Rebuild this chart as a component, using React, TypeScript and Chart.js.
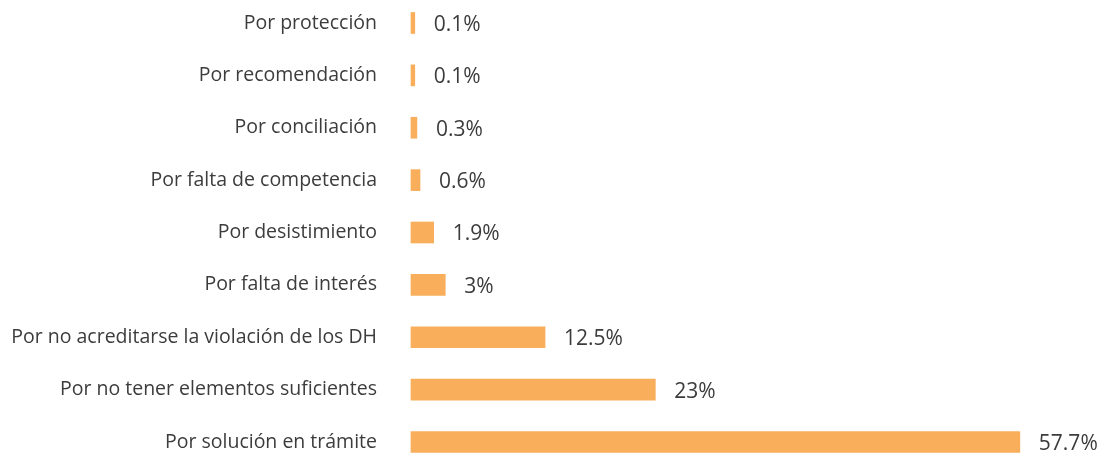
import React, { useEffect, useRef } from "react";
import { Chart, registerables } from "chart.js";

Chart.register(...registerables);

const categories = [
  "Por protección",
  "Por recomendación",
  "Por conciliación",
  "Por falta de competencia",
  "Por desistimiento",
  "Por falta de interés",
  "Por no acreditarse la violación de los DH",
  "Por no tener elementos suficientes",
  "Por solución en trámite",
];
const values = [0.1, 0.1, 0.3, 0.6, 1.9, 3, 12.5, 23, 57.7];
const valueLabels = ["0.1%", "0.1%", "0.3%", "0.6%", "1.9%", "3%", "12.5%", "23%", "57.7%"];

const FONT = "'Open Sans', sans-serif";
const TEXT = "#3c3c3c";
const BAR = "#F9AE5B";

const valueLabelPlugin = {
  id: "valueLabels",
  afterDatasetsDraw(chart: any) {
    const ctx = chart.ctx;
    const meta = chart.getDatasetMeta(0);
    ctx.save();
    ctx.font = `21px ${FONT}`;
    ctx.fillStyle = TEXT;
    ctx.textAlign = "left";
    ctx.textBaseline = "middle";
    meta.data.forEach((bar: any, i: number) => {
      ctx.fillText(valueLabels[i], bar.x + 19, bar.y + 2);
    });
    ctx.restore();
  },
};

export default function App() {
  const ref = useRef<HTMLCanvasElement>(null);
  useEffect(() => {
    const chart = new Chart(ref.current!, {
      type: "bar",
      data: {
        labels: categories,
        datasets: [
          {
            data: values,
            backgroundColor: BAR,
            borderWidth: 0,
            barThickness: 21,
            base: -0.26,
            clip: false,
          } as any,
        ],
      },
      options: {
        indexAxis: "y",
        animation: false,
        responsive: false,
        maintainAspectRatio: false,
        layout: { padding: { top: 23, bottom: 12, right: 61, left: 0 } },
        plugins: { legend: { display: false }, tooltip: { enabled: false } },
        scales: {
          x: {
            display: false,
            min: -0.26,
            max: 60,
          },
          y: {
            offset: false,
            grid: { display: false, drawTicks: false },
            border: { display: false },
            ticks: {
              padding: 34,
              color: TEXT,
              font: { family: FONT, size: 19.5 },
            },
            afterFit(scale: any) {
              scale.width = 411;
              scale.paddingTop = 0;
              scale.paddingBottom = 0;
            },
          },
        },
      },
      plugins: [valueLabelPlugin],
    });
    return () => chart.destroy();
  }, []);
  return (
    <div style={{ position: "fixed", left: 0, top: 0, width: 1105, height: 454, background: "#fff" }}>
      <canvas ref={ref} width={1105} height={454} style={{ width: 1105, height: 454 }} />
    </div>
  );
}
